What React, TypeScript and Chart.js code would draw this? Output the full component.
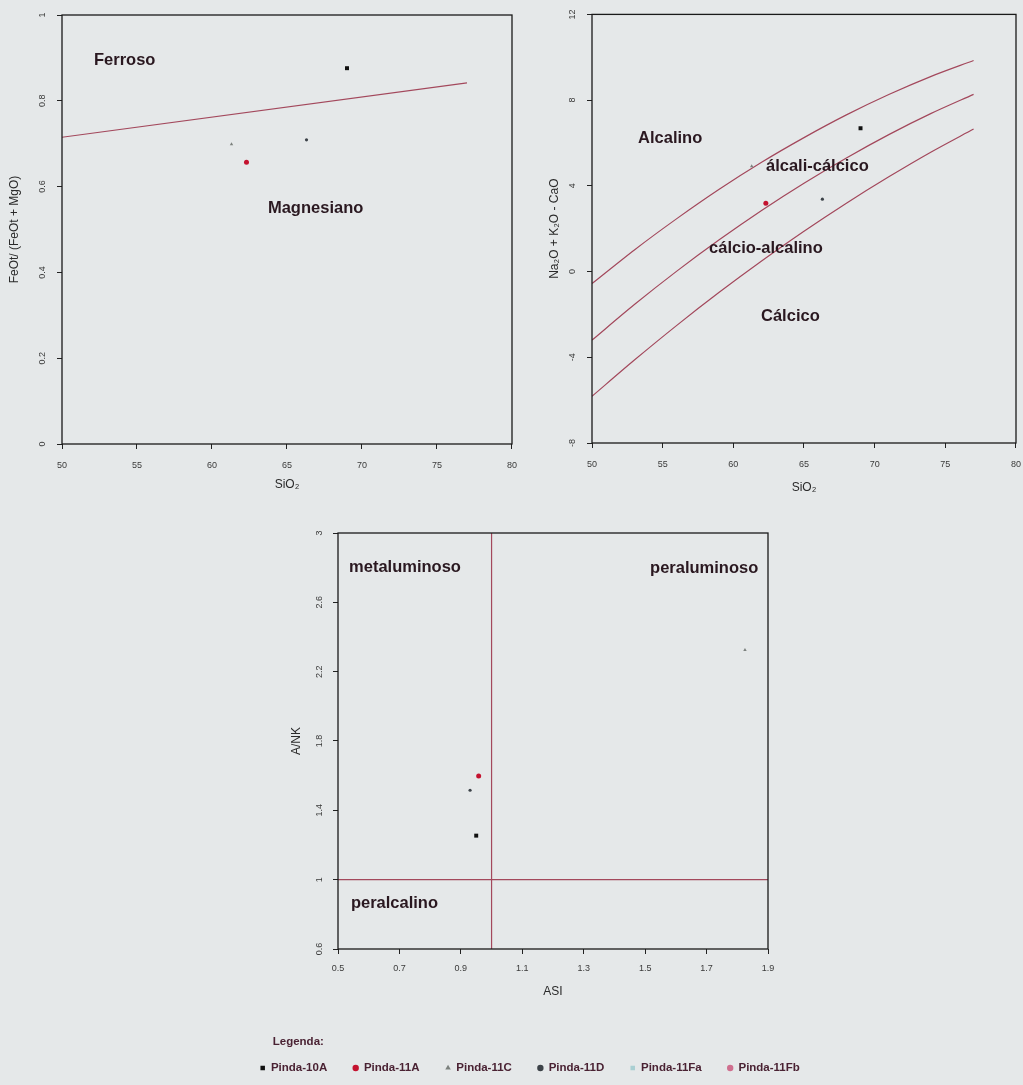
import React, { useEffect, useRef } from 'react';
import { Chart, registerables } from 'chart.js';

Chart.register(...registerables);

const FONT = "'Liberation Sans', Arial, Helvetica, sans-serif";
const BG = '#e5e8e9';
const LINE_COLOR = '#a3485c';
const NOTE_COLOR = '#2a1820';
const LEGEND_COLOR = '#4a2233';
const TICK_COLOR = '#3a3a3a';

// ---- samples ----
const SAMPLES = ['Pinda-10A', 'Pinda-11A', 'Pinda-11C', 'Pinda-11D', 'Pinda-11Fa', 'Pinda-11Fb'];
const SAMPLE_COLORS = ['#111111', '#c4122f', '#7c817e', '#3c4248', '#a9cfd2', '#cf6f8f'];
const SAMPLE_STYLES = ['rect', 'circle', 'triangle', 'circle', 'rect', 'circle'];
const SAMPLE_RADII = [2.8, 2.5, 2, 1.6, 2, 1.6];

// ---- sample values ----
const SIO2 = [69.0, 62.3, 61.3, 66.3, null, null];
const FEOT_RATIO = [0.876, 0.657, 0.699, 0.709, null, null];
const MALI = [6.69, 3.19, 4.91, 3.38, null, null];
const ASI = [0.95, 0.958, 1.825, 0.93, null, null];
const ANK = [1.254, 1.598, 2.325, 1.516, null, null];

// ---- boundary lines ----
const FE_LINE_SIO2 = [50, 77];
const FE_LINE_RATIO = [0.715, 0.842];

const MALI_SIO2 = [50, 53, 56, 59, 62, 65, 68, 71, 74, 77];
const MALI_ALKALIC = [-0.56, 1.01, 2.47, 3.84, 5.1, 6.25, 7.31, 8.26, 9.11, 9.85];
const MALI_ALKALI_CALCIC = [-3.2, -1.54, 0.02, 1.48, 2.85, 4.12, 5.3, 6.39, 7.38, 8.27];
const MALI_CALC_ALKALIC = [-5.82, -4.13, -2.51, -0.97, 0.49, 1.88, 3.19, 4.42, 5.58, 6.65];

const ASI_DIVIDE_X = [1, 1];
const ASI_DIVIDE_Y = [0.6, 3];
const ANK_DIVIDE_X = [0.5, 1.9];
const ANK_DIVIDE_Y = [1, 1];

// ---- ticks ----
const SIO2_TICKS = [50, 55, 60, 65, 70, 75, 80];
const SIO2_LABELS = ['50', '55', '60', '65', '70', '75', '80'];
const FE_TICKS = [0, 0.2, 0.4, 0.6, 0.8, 1];
const FE_LABELS = ['0', '0.2', '0.4', '0.6', '0.8', '1'];
const MALI_TICKS = [-8, -4, 0, 4, 8, 12];
const MALI_LABELS = ['-8', '-4', '0', '4', '8', '12'];
const ASI_TICKS = [0.5, 0.7, 0.9, 1.1, 1.3, 1.5, 1.7, 1.9];
const ASI_LABELS = ['0.5', '0.7', '0.9', '1.1', '1.3', '1.5', '1.7', '1.9'];
const ANK_TICKS = [0.6, 1, 1.4, 1.8, 2.2, 2.6, 3];
const ANK_LABELS = ['0.6', '1', '1.4', '1.8', '2.2', '2.6', '3'];

// ---- field names ----
type Note = { text: string; x: number; y: number };
const FE_NOTES: Note[] = [
  { text: 'Ferroso', x: 52.13, y: 0.895 },
  { text: 'Magnesiano', x: 63.73, y: 0.55 },
];
const MALI_NOTES: Note[] = [
  { text: 'Alcalino', x: 53.26, y: 6.22 },
  { text: 'álcali-cálcico', x: 62.31, y: 4.91 },
  { text: 'cálcio-alcalino', x: 58.28, y: 1.09 },
  { text: 'Cálcico', x: 61.96, y: -2.08 },
];
const ASI_NOTES: Note[] = [
  { text: 'metaluminoso', x: 0.536, y: 2.804 },
  { text: 'peraluminoso', x: 1.516, y: 2.793 },
  { text: 'peralcalino', x: 0.542, y: 0.865 },
];

function framePlugin(notes: Note[]) {
  return {
    id: 'frameNotes',
    afterDatasetsDraw(chart: any) {
      const { ctx, chartArea: a, scales } = chart;
      ctx.save();
      ctx.strokeStyle = '#1a1a1a';
      ctx.lineWidth = 1.3;
      ctx.strokeRect(a.left, a.top, a.right - a.left, a.bottom - a.top);
      ctx.font = `bold 16.5px ${FONT}`;
      ctx.fillStyle = NOTE_COLOR;
      ctx.textAlign = 'left';
      ctx.textBaseline = 'middle';
      for (const n of notes) {
        ctx.fillText(n.text, scales.x.getPixelForValue(n.x), scales.y.getPixelForValue(n.y));
      }
      ctx.restore();
    },
  };
}

function axis(
  kind: 'x' | 'y',
  min: number,
  max: number,
  ticks: number[],
  labels: string[],
  title: string,
  size: number,
  tickPad: number,
  titlePad: number,
  tickLineHeight = 1.2
) {
  return {
    type: 'linear',
    position: kind === 'x' ? 'bottom' : 'left',
    min,
    max,
    afterBuildTicks: (s: any) => {
      s.ticks = ticks.map((v) => ({ value: v }));
    },
    afterFit: (s: any) => {
      if (kind === 'x') s.height = size;
      else s.width = size;
    },
    grid: {
      display: true,
      drawOnChartArea: false,
      drawTicks: true,
      tickLength: 5,
      tickWidth: 1,
      tickColor: '#222',
      color: '#222',
    },
    border: { display: false },
    ticks: {
      autoSkip: false,
      callback: (_v: any, i: number) => labels[i],
      font: { size: 9, family: FONT, lineHeight: tickLineHeight },
      color: TICK_COLOR,
      padding: tickPad,
      ...(kind === 'y'
        ? { minRotation: 90, maxRotation: 90, crossAlign: 'center' }
        : { minRotation: 0, maxRotation: 0 }),
    },
    title: {
      display: true,
      text: title,
      font: { size: 12, family: FONT },
      color: '#2a2a2a',
      padding: kind === 'x' ? { top: 0, bottom: titlePad } : { top: titlePad, bottom: 0 },
    },
  };
}

function sampleDatasets(xs: (number | null)[], ys: (number | null)[]) {
  return SAMPLES.map((name, i) => ({
    type: 'scatter',
    label: name,
    data: xs[i] != null && ys[i] != null ? [{ x: xs[i], y: ys[i] }] : [],
    pointStyle: SAMPLE_STYLES[i],
    pointRadius: SAMPLE_RADII[i],
    pointHoverRadius: SAMPLE_RADII[i],
    backgroundColor: SAMPLE_COLORS[i],
    borderColor: SAMPLE_COLORS[i],
    borderWidth: 0,
    xAxisID: 'x',
    yAxisID: 'y',
  }));
}

function lineDataset(xs: number[], ys: number[], tension: number) {
  return {
    type: 'scatter',
    label: '',
    data: xs.map((x, i) => ({ x, y: ys[i] })),
    showLine: true,
    pointRadius: 0,
    borderColor: LINE_COLOR,
    backgroundColor: LINE_COLOR,
    borderWidth: 1.2,
    tension,
    xAxisID: 'x',
    yAxisID: 'y',
  };
}

function feConfig(): any {
  return {
    type: 'scatter',
    data: {
      datasets: [...sampleDatasets(SIO2, FEOT_RATIO), lineDataset(FE_LINE_SIO2, FE_LINE_RATIO, 0)],
    },
    options: {
      responsive: false,
      animation: false,
      events: [],
      layout: { padding: { left: 0, right: 8, top: 15, bottom: 0 } },
      plugins: { legend: { display: false }, tooltip: { enabled: false } },
      scales: {
        x: axis('x', 50, 80, SIO2_TICKS, SIO2_LABELS, 'SiO₂', 56, 3, 7.8, 28 / 9),
        y: axis('y', 0, 1, FE_TICKS, FE_LABELS, 'FeOt/ (FeOt + MgO)', 62, 8, 7.8),
      },
    },
    plugins: [framePlugin(FE_NOTES)],
  };
}

function maliConfig(): any {
  return {
    type: 'scatter',
    data: {
      datasets: [
        ...sampleDatasets(SIO2, MALI),
        lineDataset(MALI_SIO2, MALI_ALKALIC, 0.3),
        lineDataset(MALI_SIO2, MALI_ALKALI_CALCIC, 0.3),
        lineDataset(MALI_SIO2, MALI_CALC_ALKALIC, 0.3),
      ],
    },
    options: {
      responsive: false,
      animation: false,
      events: [],
      layout: { padding: { left: 0, right: 7, top: 14, bottom: 0 } },
      plugins: { legend: { display: false }, tooltip: { enabled: false } },
      scales: {
        x: axis('x', 50, 80, SIO2_TICKS, SIO2_LABELS, 'SiO₂', 57, 2, 4.8, 30 / 9),
        y: axis('y', -8, 12, MALI_TICKS, MALI_LABELS, 'Na₂O + K₂O - CaO', 72, 9, 27.8),
      },
    },
    plugins: [framePlugin(MALI_NOTES)],
  };
}

function asiConfig(): any {
  return {
    type: 'scatter',
    data: {
      datasets: [
        ...sampleDatasets(ASI, ANK),
        lineDataset(ASI_DIVIDE_X, ASI_DIVIDE_Y, 0),
        lineDataset(ANK_DIVIDE_X, ANK_DIVIDE_Y, 0),
      ],
    },
    options: {
      responsive: false,
      animation: false,
      events: [],
      layout: { padding: { left: 0, right: 0, top: 43, bottom: 1.25 } },
      plugins: {
        tooltip: { enabled: false },
        legend: {
          display: true,
          position: 'bottom',
          align: 'center',
          title: {
            display: true,
            text: '        Legenda:',
            position: 'start',
            color: LEGEND_COLOR,
            font: { size: 11.5, weight: 'bold', family: FONT, lineHeight: 1 },
            padding: { top: 0, bottom: -11.5 },
          },
          labels: {
            usePointStyle: true,
            boxWidth: 5,
            boxHeight: 4.5,
            padding: 26,
            color: LEGEND_COLOR,
            font: { size: 11.5, weight: 'bold', family: FONT },
            filter: (item: any) => item.datasetIndex < SAMPLES.length,
          },
        },
      },
      scales: {
        x: axis('x', 0.5, 1.9, ASI_TICKS, ASI_LABELS, 'ASI', 87.25, 9.6, 37),
        y: axis('y', 0.6, 3, ANK_TICKS, ANK_LABELS, 'A/NK', 138, 6.75, 89.8),
        yRight: {
          type: 'linear',
          position: 'right',
          display: true,
          min: 0,
          max: 1,
          grid: { display: false },
          border: { display: false },
          ticks: { display: false },
          title: { display: false },
          afterFit: (s: any) => {
            s.width = 92;
          },
        },
      },
    },
    plugins: [framePlugin(ASI_NOTES)],
  };
}

export default function App() {
  const feRef = useRef<HTMLCanvasElement>(null);
  const maliRef = useRef<HTMLCanvasElement>(null);
  const asiRef = useRef<HTMLCanvasElement>(null);

  useEffect(() => {
    const charts = [
      new Chart(feRef.current as HTMLCanvasElement, feConfig()),
      new Chart(maliRef.current as HTMLCanvasElement, maliConfig()),
      new Chart(asiRef.current as HTMLCanvasElement, asiConfig()),
    ];
    return () => charts.forEach((c) => c.destroy());
  }, []);

  return (
    <div
      style={{
        position: 'absolute',
        left: 0,
        top: 0,
        width: 1023,
        height: 1085,
        background: BG,
        overflow: 'hidden',
      }}
    >
      <canvas ref={feRef} width={520} height={500} style={{ position: 'absolute', left: 0, top: 0 }} />
      <canvas ref={maliRef} width={503} height={500} style={{ position: 'absolute', left: 520, top: 0 }} />
      <canvas ref={asiRef} width={660} height={595} style={{ position: 'absolute', left: 200, top: 490 }} />
    </div>
  );
}
